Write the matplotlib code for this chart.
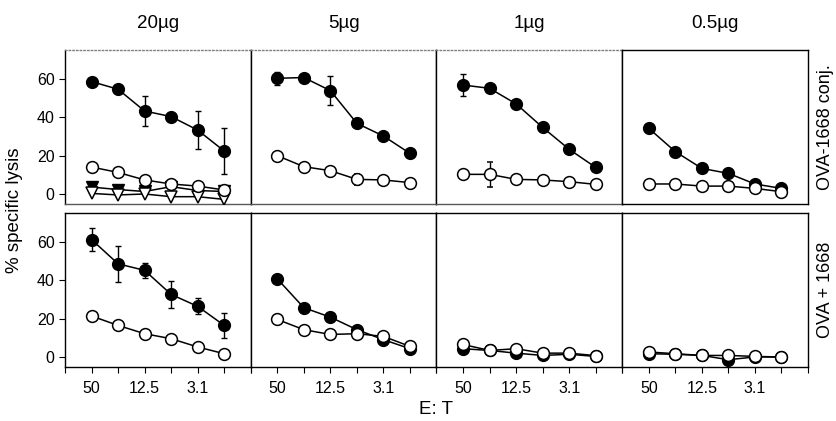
import matplotlib.pyplot as plt
import numpy as np

plt.rcParams['font.family'] = ['Liberation Sans', 'DejaVu Sans']

doses = ["20µg", "5µg", "1µg", "0.5µg"]
rows = ["OVA-1668 conj.", "OVA + 1668"]
et_labels = ["50", "12.5", "3.1"]
x = np.arange(1, 7)

# filled circles (row, col)
filled = [
    [[58.6, 54.6, 43.3, 40.4, 33.4, 22.5],
     [60.3, 60.7, 53.9, 36.9, 30.3, 21.3],
     [56.8, 55.1, 47.0, 34.8, 23.4, 14.0],
     [34.3, 22.2, 13.5, 10.9, 5.4, 3.1]],
    [[61.2, 48.6, 45.2, 32.7, 26.5, 16.6],
     [40.8, 25.8, 20.9, 14.4, 9.2, 4.5],
     [4.5, 3.6, 2.2, 1.0, 1.6, 0.5],
     [1.9, 1.6, 1.0, -1.2, 0.2, 0.2]],
]
filled_err = [
    [[0, 0, 8.0, 0, 10.0, 12.0],
     [3.5, 0, 7.5, 0, 0, 0],
     [5.7, 0, 0, 0, 0, 0],
     [0, 0, 0, 0, 0, 0]],
    [[6.0, 9.5, 4.0, 7.2, 4.2, 6.5],
     [0, 0, 0, 0, 0, 0],
     [0, 0, 0, 0, 0, 0],
     [0, 0, 0, 0, 0, 0]],
]
open_ = [
    [[14.2, 11.4, 7.5, 5.4, 4.3, 2.3],
     [20.1, 14.4, 12.3, 7.8, 7.5, 6.1],
     [10.4, 10.4, 7.8, 7.5, 6.6, 5.2],
     [5.4, 5.4, 4.3, 4.3, 3.1, 1.4]],
    [[21.5, 16.6, 12.3, 9.7, 5.4, 1.9],
     [19.7, 14.4, 11.9, 12.3, 10.9, 5.7],
     [6.7, 3.6, 4.5, 2.2, 2.2, 0.9],
     [2.8, 1.9, 1.0, 1.0, 0.5, 0.2]],
]
open_err = [
    [[0, 0, 0, 0, 0, 0],
     [0, 0, 0, 3.0, 0, 0],
     [0, 6.5, 2.0, 2.0, 0, 0],
     [0, 0, 0, 0, 0, 0]],
    [[0, 0, 0, 0, 0, 0],
     [0, 0, 2.5, 0, 0, 0],
     [0, 0, 0, 0, 0, 0],
     [0, 0, 0, 0, 0, 0]],
]
# triangles, 20µg conj. only
tri_filled = [3.8, 2.5, 1.5, 4.0, 2.0, 1.5]
tri_open = [0.5, -0.3, 0.2, -1.2, -1.2, -2.6]

fig = plt.figure(figsize=(8.36, 4.21), dpi=100)
W, H = 836, 421
left0, pw = 65, 185.75
tops = [50, 213]
ph = 154
ms = 8.5

for r in range(2):
    for c in range(4):
        ax = fig.add_axes([(left0 + c * pw) / W, 1 - (tops[r] + ph) / H, pw / W, ph / H])
        ax.set_xlim(0, 7)
        ax.set_ylim(-5, 75)
        # open series on top where the curves overlap near zero
        open_z = 5 if (r == 1 or c == 3) else 3
        ax.errorbar(x, open_[r][c], yerr=open_err[r][c], color='black', lw=1.1,
                    marker='o', ms=ms, mfc='white', mec='black', mew=1.1,
                    capsize=2, elinewidth=1.0, zorder=open_z)
        if r == 0 and c == 0:
            ax.plot(x, tri_filled, color='black', lw=1.1, marker='v', ms=ms,
                    mfc='black', mec='black', zorder=3)
            ax.plot(x, tri_open, color='black', lw=1.1, marker='v', ms=ms,
                    mfc='white', mec='black', mew=1.1, zorder=3)
        ax.errorbar(x, filled[r][c], yerr=filled_err[r][c], color='black', lw=1.1,
                    marker='o', ms=ms, mfc='black', mec='black',
                    capsize=2, elinewidth=1.0, zorder=4)
        for s in ax.spines.values():
            s.set_linewidth(1.0)
        if r == 0 and c < 3:
            ax.spines['top'].set_color('0.5')
            ax.spines['top'].set_linestyle(':')
            ax.spines['bottom'].set_color('0.35')
        if c == 0:
            ax.set_yticks([0, 20, 40, 60])
            ax.tick_params(axis='y', direction='out', length=4, labelsize=11.5)
        else:
            ax.set_yticks([])
        if r == 1:
            ax.set_xticks(np.arange(0, 8))
            ax.set_xticklabels(["", et_labels[0], "", et_labels[1], "", et_labels[2], "", ""])
            ax.tick_params(axis='x', direction='out', length=4, labelsize=11.5, pad=6)
        else:
            ax.set_xticks([])
        if r == 0:
            ax.set_title(doses[c], fontsize=13.5, pad=16)
        if c == 3:
            ax.text(1.095, 0.5, rows[r], transform=ax.transAxes, rotation=90,
                    ha='center', va='center', fontsize=13)

fig.text(15 / W, 1 - 210 / H, "% specific lysis", rotation=90, ha='center', va='center', fontsize=13.5)
fig.text(436 / W, 1 - 410 / H, "E: T", ha='center', va='center', fontsize=13.5)

fig.savefig("out.png", dpi=100)
